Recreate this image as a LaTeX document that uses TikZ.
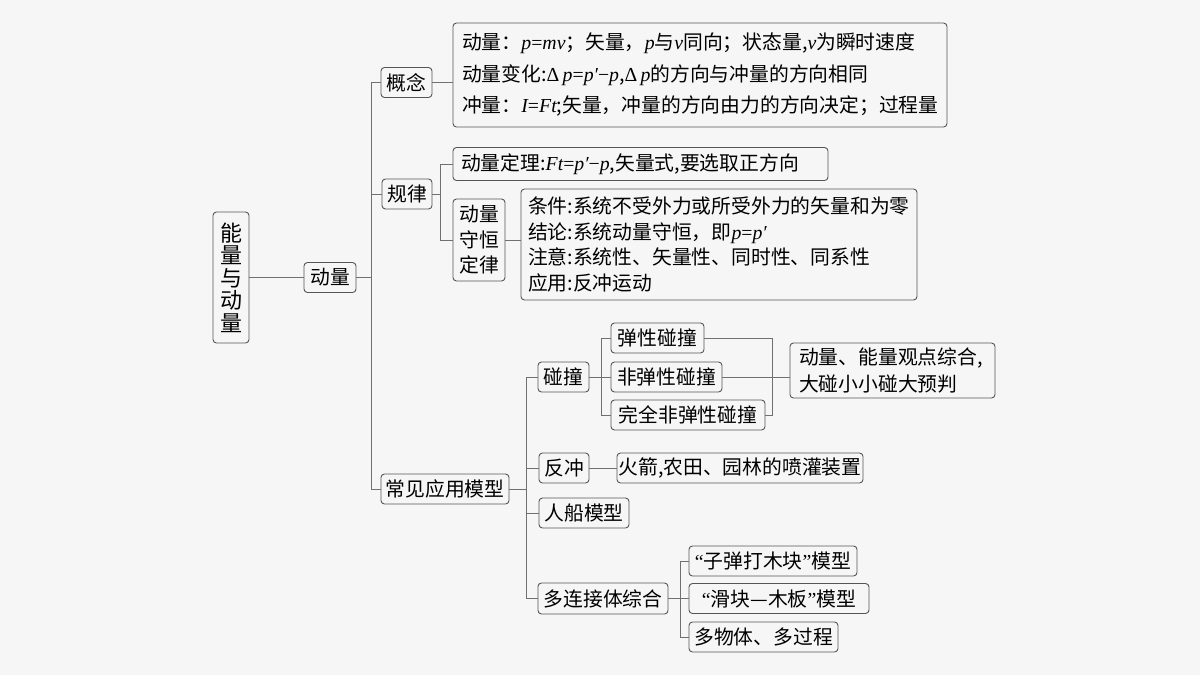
\documentclass[tikz,border=0pt]{standalone}
\usepackage{fontspec}
\setmainfont{Noto Sans CJK SC}
\newfontfamily\ltn{Liberation Serif}
\newcommand\mv[1]{{\ltn\itshape #1}}
\newcommand\up[1]{{\ltn #1}}
\definecolor{boxc}{HTML}{555555}
\definecolor{linec}{HTML}{707070}
\definecolor{bgc}{HTML}{F6F6F6}
\begin{document}
\begin{tikzpicture}[x=1pt,y=-1pt,
  bx/.style={draw=boxc, rounded corners=3.5pt, line width=0.9pt, inner sep=0pt,
             font=\fontsize{19.8}{22}\selectfont, minimum height=30pt, text=black},
  mbx/.style={bx, inner xsep=7pt, align=left},
  ln/.style={draw=linec, line width=1pt}]
\fill[bgc] (0,0) rectangle (1200,675);
\useasboundingbox (0,0) rectangle (1200,675);

% root and first level
\node[bx, minimum width=36pt, minimum height=131pt, align=center,
      font=\fontsize{22}{22.5}\selectfont] (root) at (231,277.5) {能\\量\\与\\动\\量};
\node[bx, minimum width=52pt] (dl) at (330,277.5) {动量};

% concept
\node[bx, minimum width=51pt] (gn) at (406.5,82.5) {概念};
\node[mbx, inner xsep=9pt, text width=476pt, minimum height=104pt,
      font=\fontsize{19.8}{31.5}\selectfont] (gnb) at (700,75) {%
动量：\mv{p}\up{=}\mv{mv}；矢量，\mv{p}与\mv{v}同向；状态量,\mv{v}为瞬时速度\\
动量变化:\up{Δ}\,\mv{p}\up{=}\mv{p′}\up{−}\mv{p},\up{Δ}\,\mv{p}的方向与冲量的方向相同\\
冲量：\mv{I}\up{=}\mv{Ft};矢量，冲量的方向由力的方向决定；过程量};

% law
\node[bx, minimum width=50pt] (gl) at (407,194) {规律};
\node[mbx, inner xsep=8pt, text width=359pt, minimum height=33pt] (dlt) at (640.5,164) {动量定理:\mv{Ft}\up{=}\mv{p′}\up{−}\mv{p},矢量式,要选取正方向};
\node[bx, minimum width=52pt, minimum height=82pt, align=center,
      font=\fontsize{19.8}{25.5}\selectfont] (shd) at (479,240) {动量\\守恒\\定律};
\node[mbx, text width=382pt, minimum height=111pt,
      font=\fontsize{19.8}{25.7}\selectfont] (cond) at (719,244.5) {%
条件:系统不受外力或所受外力的矢量和为零\\
结论:系统动量守恒，即\mv{p}\up{=}\mv{p′}\\
注意:系统性、矢量性、同时性、同系性\\
应用:反冲运动};

% applications
\node[bx, minimum width=128pt] (cy) at (445,489) {常见应用模型};
\node[bx, minimum width=51pt] (pz) at (563.5,377) {碰撞};
\node[bx, minimum width=93pt] (tx) at (657.5,338) {弹性碰撞};
\node[bx, minimum width=111pt] (ftx) at (666.5,377) {非弹性碰撞};
\node[bx, minimum width=154pt] (wq) at (688,415) {完全非弹性碰撞};
\node[mbx, inner xsep=9pt, text width=187pt, minimum height=55pt,
      font=\fontsize{19.8}{27}\selectfont] (res) at (892.5,370.5) {动量、能量观点综合,\\大碰小小碰大预判};
\node[bx, minimum width=50pt] (fc) at (564,468) {反冲};
\node[bx, minimum width=246pt] (hj) at (740,468) {火箭,农田、园林的喷灌装置};
\node[bx, minimum width=90pt] (rc) at (584,513) {人船模型};
\node[bx, minimum width=130pt, minimum height=31pt] (dlj) at (603,598.5) {多连接体综合};
\node[bx, minimum width=168pt] (zd) at (773,561) {\up{“}子弹打木块\up{”}模型};
\node[bx, minimum width=180pt] (hk) at (779,598.5) {\up{“}滑块—木板\up{”}模型};
\node[bx, minimum width=149pt] (dwt) at (763.5,637) {多物体、多过程};

% branch coordinates
\coordinate (t1) at (371,0);
\coordinate (t2) at (440,0);
\coordinate (t3) at (526,0);
\coordinate (t4) at (601,0);
\coordinate (t5) at (772,0);
\coordinate (t6) at (680,0);

% connectors
\draw[ln] (root.east) -- (dl.west);
\draw[ln] (dl.east) -- (dl.east -| t1);
\draw[ln] (gn.west) -- (gn.west -| t1) -- (cy.west -| t1) -- (cy.west);
\draw[ln] (gl.west) -- (gl.west -| t1);
\draw[ln] (gn.east) -- (gn.east -| gnb.west);

\draw[ln] (gl.east) -- (gl.east -| t2);
\draw[ln] (dlt.west) -- (dlt.west -| t2) -- (shd.west -| t2) -- (shd.west);
\draw[ln] (shd.east) -- (shd.east -| cond.west);

\draw[ln] (cy.east) -- (cy.east -| t3);
\draw[ln] (pz.west) -- (pz.west -| t3) -- (dlj.west -| t3) -- (dlj.west);
\draw[ln] (fc.west) -- (fc.west -| t3);
\draw[ln] (rc.west) -- (rc.west -| t3);

\draw[ln] (pz.east) -- (pz.east -| t4);
\draw[ln] (tx.west) -- (tx.west -| t4) -- (wq.west -| t4) -- (wq.west);
\draw[ln] (ftx.west) -- (ftx.west -| t4);
\draw[ln] (tx.east) -- (tx.east -| t5) -- (wq.east -| t5) -- (wq.east);
\draw[ln] (ftx.east) -- (ftx.east -| res.west);

\draw[ln] (fc.east) -- (fc.east -| hj.west);

\draw[ln] (dlj.east) -- (dlj.east -| t6);
\draw[ln] (zd.west) -- (zd.west -| t6) -- (dwt.west -| t6) -- (dwt.west);
\draw[ln] (hk.west) -- (hk.west -| t6);
\end{tikzpicture}
\end{document}
